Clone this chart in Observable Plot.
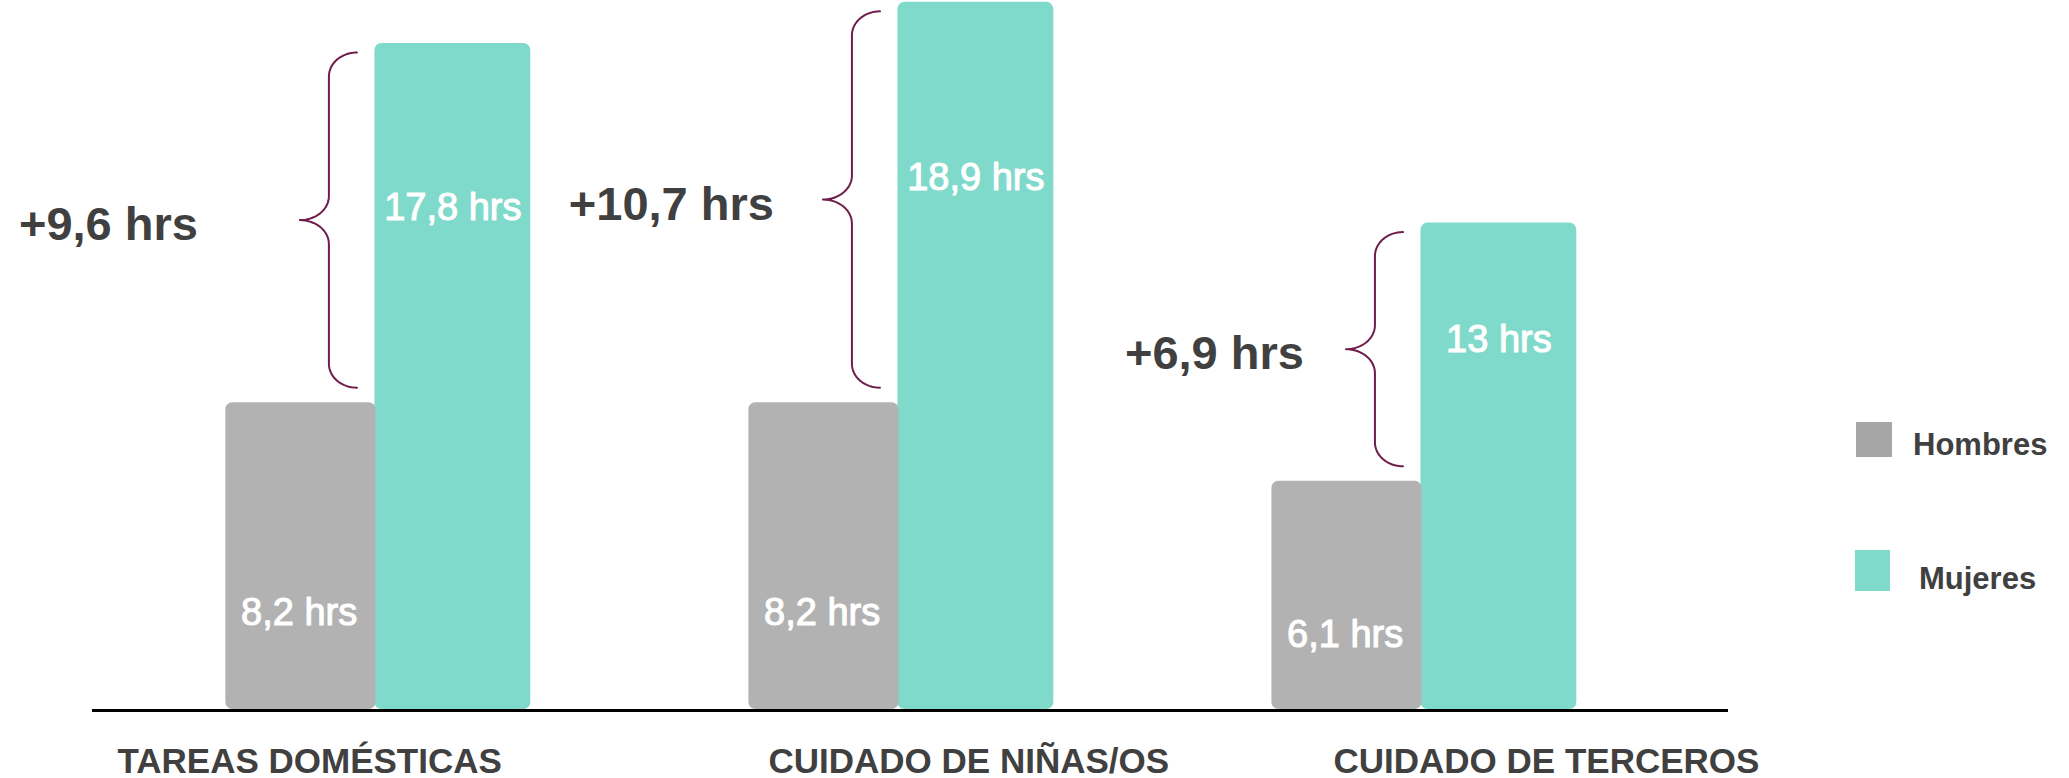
<!DOCTYPE html>
<html>
<head>
<meta charset="utf-8">
<script src="https://cdn.jsdelivr.net/npm/d3@7"></script>
<script src="https://cdn.jsdelivr.net/npm/@observablehq/plot@0.6"></script>
<style>
  body { margin: 0; background: #fff; }
  #wrap { position: relative; width: 2069px; height: 778px; font-family: 'Liberation Sans', Arial, sans-serif; }
  .lg-sw { position: absolute; }
  .lg-tx { position: absolute; font-weight: bold; font-size: 31px; line-height: 31px; color: #404040; white-space: nowrap; }
</style>
</head>
<body>
<div id="wrap"></div>
<script>
// ---- data ----
const categories = ["TAREAS DOMÉSTICAS", "CUIDADO DE NIÑAS/OS", "CUIDADO DE TERCEROS"];
const series = ["Hombres", "Mujeres"];
const hombres = [8.2, 8.2, 6.1];
const mujeres = [17.8, 18.9, 13];
const unit = "hrs";

// ---- styles ----
const barColors = ["#b2b2b2", "#80dacb"];
const legendColors = ["#a6a6a6", "#80dacb"];
const textColor = "#404040";
const braceColor = "#6f1d4b";

const rows = categories.map((c, i) => ({ i, cat: c, hombres: hombres[i], mujeres: mujeres[i] }));
const fmt = v => String(Math.round(v * 10) / 10).replace(".", ",");

// brace geometry (in scale units)
function bracePoints(d) {
  const xe = d.i - 0.0344, xs = d.i - 0.088, xt = d.i - 0.1434;
  const yT = d.mujeres - 0.24, yB = d.hombres + 0.4, yM = (yT + yB) / 2;
  const ax = xe - xs, ax2 = xs - xt, ry = 0.64;
  const N = 16, pts = [];
  for (let k = 0; k <= N; k++) { const p = k / N * Math.PI / 2; pts.push([xe - ax * Math.sin(p), yT - ry + ry * Math.cos(p)]); }
  for (let k = 0; k <= N; k++) { const p = k / N * Math.PI / 2; pts.push([xt + ax2 * Math.cos(p), yM + ry - ry * Math.sin(p)]); }
  for (let k = 0; k <= N; k++) { const p = k / N * Math.PI / 2; pts.push([xt + ax2 * Math.sin(p), yM - ry + ry * Math.cos(p)]); }
  for (let k = 0; k <= N; k++) { const p = k / N * Math.PI / 2; pts.push([xe - ax * Math.cos(p), yB + ry - ry * Math.sin(p)]); }
  return pts.map(([x, y]) => ({ x, y, id: d.i }));
}
const braceData = rows.flatMap(bracePoints);

const diffDx = [-102, -49, -42];
const catDx = [-111, 17, 59];

const diffMarks = rows.map((d, k) => Plot.text([d], {
  x: r => r.i - 0.1434,
  y: r => ((r.mujeres - 0.24) + (r.hombres + 0.4)) / 2,
  text: r => `+${fmt(r.mujeres - r.hombres)} ${unit}`,
  textAnchor: "end", lineAnchor: "bottom",
  dx: diffDx[k], dy: 20,
  fontSize: 47, fontWeight: "bold", fill: textColor
}));

const catMarks = rows.map((d, k) => Plot.text([d], {
  x: r => r.i - 0.28, y: 0,
  text: "cat",
  textAnchor: "start", lineAnchor: "bottom",
  dx: catDx[k], dy: 63,
  fontSize: 35, fontWeight: "bold", fill: textColor
}));

const chart = Plot.plot({
  width: 2069,
  height: 778,
  marginLeft: 92,
  marginRight: 341,
  marginTop: 0,
  marginBottom: 69,
  x: { domain: [-0.54, 2.588], axis: null },
  y: { domain: [0, 18.95], axis: null },
  style: { background: "white", fontFamily: "'Liberation Sans', Arial, sans-serif", overflow: "visible" },
  marks: [
    Plot.rect(rows, { x1: d => d.i, x2: d => d.i + 0.298, y1: 0, y2: "mujeres", fill: barColors[1], rx: 7 }),
    Plot.rect(rows, { x1: d => d.i - 0.285, x2: d => d.i + 0.002, y1: 0, y2: "hombres", fill: barColors[0], rx: 7 }),
    Plot.ruleY([0], { stroke: "black", strokeWidth: 3, dy: 1 }),
    Plot.text(rows, {
      x: d => d.i + 0.149, y: d => d.mujeres * 0.735,
      text: d => `${fmt(d.mujeres)} ${unit}`,
      lineAnchor: "bottom", fontSize: 38, fill: "white", stroke: "white", strokeWidth: 1.1
    }),
    Plot.text(rows, {
      x: d => d.i - 0.145, y: d => d.hombres * 0.275,
      text: d => `${fmt(d.hombres)} ${unit}`,
      lineAnchor: "bottom", fontSize: 38, fill: "white", stroke: "white", strokeWidth: 1.1
    }),
    Plot.line(braceData, { x: "x", y: "y", z: "id", stroke: braceColor, strokeWidth: 2, curve: "linear" }),
    ...diffMarks,
    ...catMarks
  ]
});

const wrap = document.getElementById("wrap");
wrap.appendChild(chart);

// legend (right side)
const lg = [
  { sw: [1856, 422, 36, 35], tx: [1913, 429] },
  { sw: [1855, 550, 35, 41], tx: [1919, 563] }
];
series.forEach((s, k) => {
  const sw = document.createElement("div");
  sw.className = "lg-sw";
  const [l, t, w, h] = lg[k].sw;
  Object.assign(sw.style, { left: l + "px", top: t + "px", width: w + "px", height: h + "px", background: legendColors[k] });
  const tx = document.createElement("div");
  tx.className = "lg-tx";
  tx.textContent = s;
  Object.assign(tx.style, { left: lg[k].tx[0] + "px", top: lg[k].tx[1] + "px" });
  wrap.appendChild(sw);
  wrap.appendChild(tx);
});
</script>
</body>
</html>
